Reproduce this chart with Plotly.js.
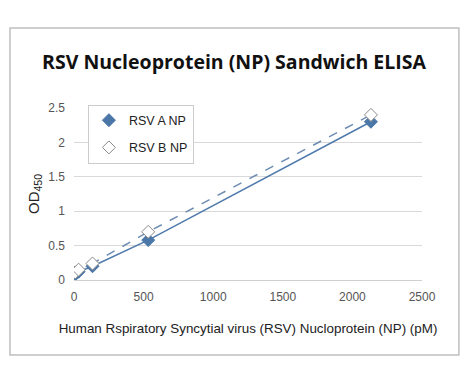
<!DOCTYPE html>
<html><head><meta charset="utf-8">
<script src="https://cdn.plot.ly/plotly-3.0.1.min.js"></script>
<style>html,body{margin:0;padding:0;background:#fff}#chart{width:468px;height:379px}</style>
</head><body><div id="chart"></div>
<script>
const concentration = [8.3, 33, 133, 533, 2133];
const rsvA = [0.08, 0.12, 0.2, 0.58, 2.3];
const rsvB = [0.11, 0.15, 0.24, 0.7, 2.4];
const seriesNames = ["RSV A NP", "RSV B NP"];
const xTicks = [0, 500, 1000, 1500, 2000, 2500];
const yTicks = [0, 0.5, 1, 1.5, 2, 2.5];

const markerA = {symbol: "diamond", size: 10, color: "#4a76a8", line: {color: "#4a76a8", width: 1}};
const markerB = {symbol: "diamond", size: 10, color: "#ffffff", line: {color: "#8a8a8a", width: 1}};

const traces = [
  {x: concentration, y: rsvA, name: seriesNames[0], mode: "lines+markers", type: "scatter", showlegend: false,
   line: {color: "#4f7aab", width: 1.5}, marker: markerA},
  {x: concentration, y: rsvB, name: seriesNames[1], mode: "lines+markers", type: "scatter", showlegend: false,
   line: {color: "#6d8db3", width: 1.5, dash: "dash"}, marker: markerB},
  {x: [null], y: [null], name: seriesNames[0], legendgroup: "a", mode: "markers", type: "scatter", marker: markerA},
  {x: [null], y: [null], name: seriesNames[1], legendgroup: "b", mode: "markers", type: "scatter", marker: markerB}
];

const layout = {
  width: 468, height: 379,
  margin: {l: 74, r: 46, t: 108, b: 99},
  paper_bgcolor: "#ffffff", plot_bgcolor: "#ffffff",
  font: {family: "Liberation Sans, Arial, sans-serif", color: "#404040", size: 12},
  title: {text: "<b>RSV Nucleoprotein (NP) Sandwich ELISA</b>", x: 0.5, xref: "container", xanchor: "center",
          y: 1 - 62/379, yref: "container", yanchor: "middle",
          font: {family: "Open Sans, Liberation Sans, sans-serif", size: 19.5, color: "#111111"}},
  xaxis: {range: [0, 2500], tickvals: xTicks, showgrid: false, zeroline: false,
          showline: false, ticks: "", ticklabelstandoff: 8, tickfont: {size: 12, color: "#555555"},
          title: {text: "Human Rspiratory Syncytial virus (RSV) Nucloprotein (NP) (pM)", standoff: 20,
                  font: {size: 13.4, color: "#222222"}}},
  yaxis: {range: [0, 2.5], tickvals: yTicks, ticktext: ["0","0.5","1","1.5","2","2.5"],
          showgrid: true, gridcolor: "#d9d9d9", gridwidth: 1, zeroline: true, zerolinecolor: "#cfcfcf",
          showline: false, ticks: "", ticklabelstandoff: 8, tickfont: {size: 12, color: "#555555"},
          title: {text: "OD<sub>450</sub>", standoff: 5, font: {size: 15, color: "#222222"}}},
  legend: {x: 0.04, y: 1.02, xanchor: "left", yanchor: "top", bgcolor: "#ffffff", itemwidth: 30,
           bordercolor: "#cccccc", borderwidth: 1, font: {size: 12.5, color: "#222222"}, tracegroupgap: 8},
  showlegend: true,
  shapes: [{type: "rect", xref: "paper", yref: "paper", x0: -0.184, x1: 1.106, y0: -0.436, y1: 1.465,
            line: {color: "#bfbfbf", width: 1.5}, fillcolor: "rgba(0,0,0,0)"}]
};
Plotly.newPlot("chart", traces, layout, {displayModeBar: false, staticPlot: true});
</script></body></html>
